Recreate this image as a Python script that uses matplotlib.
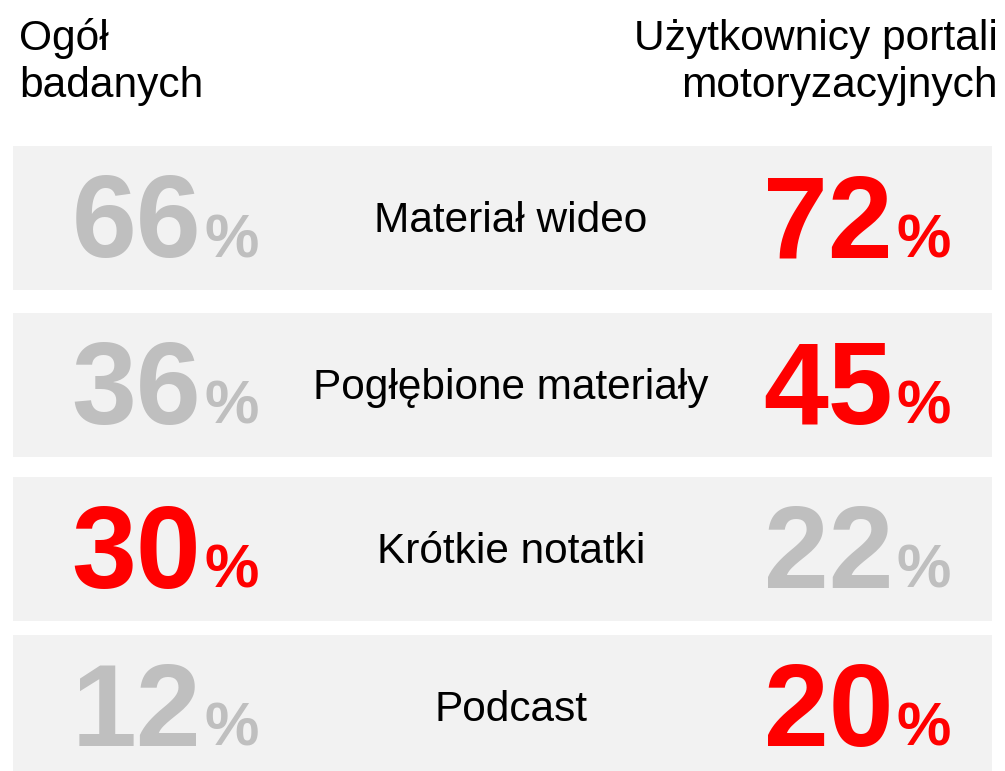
import matplotlib
matplotlib.use("Agg")
import matplotlib.pyplot as plt
from matplotlib.patches import Rectangle

# ---- data ----
categories = ["Materiał wideo", "Pogłębione materiały", "Krótkie notatki", "Podcast"]
overall = [66, 36, 30, 12]          # Ogół badanych
moto_users = [72, 45, 22, 20]       # Użytkownicy portali motoryzacyjnych
header_left = ["Ogół", "badanych"]
header_right = ["Użytkownicy portali", "motoryzacyjnych"]

# ---- style ----
RED = "#FF0000"
GRAY = "#BFBFBF"
BOX = "#F2F2F2"
FONT = "Liberation Sans"

W, H = 1005, 771
fig = plt.figure(figsize=(W / 100, H / 100), dpi=100)
ax = fig.add_axes([0, 0, 1, 1])
ax.set_xlim(0, W)
ax.set_ylim(H, 0)
ax.axis("off")

# headers
for i, t in enumerate(header_left):
    ax.text(19, 50 + i * 47, t, fontsize=30.6, family=FONT, ha="left", va="baseline", color="black")
for i, t in enumerate(header_right):
    ax.text(998, 50 + i * 47, t, fontsize=30.6, family=FONT, ha="right", va="baseline", color="black")

row_tops = [146, 313, 477, 635]
row_h = 144
box_x0, box_x1 = 13, 992

def big_number(xr, yb, value, color):
    ax.text(xr, yb, f"{value}", fontsize=84, family=FONT, fontweight="bold",
            ha="right", va="baseline", color=color)
    ax.text(xr + 4, yb, "%", fontsize=44, family=FONT, fontweight="bold",
            ha="left", va="baseline", color=color)

for i, (cat, a, b) in enumerate(zip(categories, overall, moto_users)):
    top = row_tops[i]
    ax.add_patch(Rectangle((box_x0, top), box_x1 - box_x0, row_h, facecolor=BOX, edgecolor="none"))
    cy = top + row_h / 2
    ca = RED if a > b else GRAY
    cb = RED if b > a else GRAY
    big_number(201, cy + 39, a, ca)
    big_number(893, cy + 39, b, cb)
    ax.text(511, cy + 14, cat, fontsize=30.5, family=FONT, ha="center", va="baseline", color="black")

fig.savefig("out.png", dpi=100, facecolor="white")
